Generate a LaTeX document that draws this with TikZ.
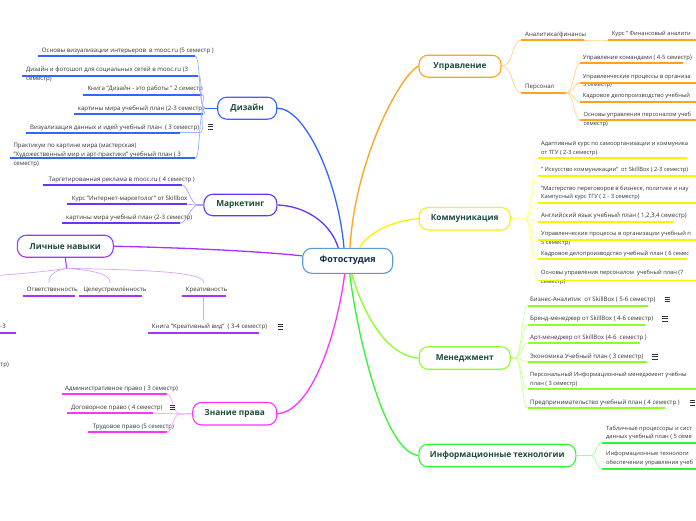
\documentclass[tikz,border=0pt]{standalone}
\usepackage{fontspec}
\setmainfont{Open Sans}
\definecolor{cen}{HTML}{5B9BD5}
\definecolor{blu}{HTML}{3366FF}\definecolor{bluL}{HTML}{99B3FF}
\definecolor{pur}{HTML}{6633FF}\definecolor{purL}{HTML}{B39CFF}
\definecolor{vio}{HTML}{A633FF}\definecolor{vioL}{HTML}{D9A3FF}
\definecolor{mag}{HTML}{FF33FF}\definecolor{magL}{HTML}{FFA3FF}
\definecolor{ora}{HTML}{FFA31A}\definecolor{oraL}{HTML}{FFD28C}
\definecolor{yel}{HTML}{F5F500}\definecolor{yelL}{HTML}{FFFF99}
\definecolor{lgr}{HTML}{8CFF26}\definecolor{lgrL}{HTML}{CCFF99}
\definecolor{grn}{HTML}{33F533}\definecolor{grnL}{HTML}{99FF99}
\definecolor{htxt}{HTML}{1D4A3C}
\definecolor{ctxt}{HTML}{172B4D}
\definecolor{itxt}{HTML}{333333}
\tikzset{
  topic/.style={draw=#1, line width=1.1pt, fill=white, rounded corners=9pt,
    font=\fontsize{8.3}{10}\selectfont\bfseries, text=htxt, inner sep=0pt},
  itm/.style={font=\fontsize{6.1}{8.8}\selectfont, text=itxt, inner sep=0pt,
    anchor=north west, align=left},
  sm/.style={font=\fontsize{5.75}{8.8}\selectfont},
  smm/.style={font=\fontsize{5.9}{8.8}\selectfont},
  ul/.style={draw=#1, line width=1.7pt},
  cn/.style={draw=#1, line width=0.7pt},
  br/.style={draw=#1, line width=1.3pt},
  icon/.style={draw=itxt, line width=0.6pt},
}
% [opts] name, x, y, ul x1, ul x2, ul y, colour, text
\newcommand\mitem[9][]{%
  \node[itm,#1] (#2) at (#3,{#4-2.9}) {#9};
  \coordinate (#2a) at (#5,#7);
  \coordinate (#2b) at (#6,#7);
  \draw[ul=#8] (#2a) -- (#2b);}
\newcommand\noteicon[2]{%
  \draw[icon] ({#1-2.6},{#2-2.2}) -- ++(5.2,0) ({#1-2.6},#2) -- ++(5.2,0) ({#1-2.6},{#2+2.2}) -- ++(5.2,0);}
\begin{document}
\begin{tikzpicture}[x=1pt,y=-1pt]
\useasboundingbox (0,0) rectangle (696,520);
\fill[white] (0,0) rectangle (696,520);

% main topics
\node[topic=cen, text=ctxt, minimum width=90pt, minimum height=25pt,
  font=\fontsize{9}{11}\selectfont\bfseries] (c) at (347.7,260.8) {Фотостудия};
\node[topic=blu, minimum width=59pt, minimum height=22pt] (diz) at (247.2,108.2) {Дизайн};
\node[topic=pur, minimum width=73pt, minimum height=21.5pt] (mar) at (240.4,205) {Маркетинг};
\node[topic=vio, minimum width=96pt, minimum height=22pt] (lic) at (65.3,246.2) {Личные навыки};
\node[topic=mag, minimum width=84pt, minimum height=22.5pt] (zna) at (234.7,413.7) {Знание права};
\node[topic=ora, minimum width=82pt, minimum height=22pt] (upr) at (460,66.2) {Управление};
\node[topic=yel, minimum width=91pt, minimum height=22.5pt] (kom) at (464.7,218.7) {Коммуникация};
\node[topic=lgr, minimum width=91pt, minimum height=22.5pt] (men) at (464.7,358) {Менеджмент};
\node[topic=grn, minimum width=157pt, minimum height=22.5pt] (inf) at (497.3,455.5) {Информационные технологии};

% main branches
\draw[br=blu] (diz.east) .. controls (305,108) and (338,180) .. ([xshift=-3.7pt]c.north);
\draw[br=pur] (mar.east) .. controls (305,206) and (330,222) .. ([xshift=-9.4pt]c.north);
\draw[br=vio] (lic.east) .. controls (190,248) and (255,251) .. ([yshift=5pt]c.west);
\draw[br=mag] (zna.east) .. controls (310,412) and (336,340) .. ([xshift=-3pt]c.south);
\draw[br=ora] (upr.west) .. controls (400,75) and (355,160) .. ([xshift=2.3pt]c.north);
\draw[br=yel] (kom.west) .. controls (395,220) and (368,232) .. ([xshift=12pt]c.north);
\draw[br=lgr] ([xshift=4pt]c.south) .. controls (362,310) and (385,356) .. (men.west);
\draw[br=grn] ([xshift=2pt]c.south) .. controls (358,340) and (385,452) .. (inf.west);

% ---------- Дизайн
\coordinate (dz) at (205,108.2);
\draw[line width=1.3pt, draw=blu] (diz.west) -- (dz);
\mitem{d1}{41.7}{50.7}{38}{195}{56}{blu}{Основы визуализации интерьеров\ \ в mooc.ru (5 семестр )}
\mitem{d2}{26}{69.3}{21.7}{198}{75.7}{blu}{Дизайн и фотошоп для социальных сетей в mooc.ru (3\\семестр)}
\mitem{d3}{87.3}{89}{82.7}{201.7}{95}{blu}{Книга "Дизайн - это работы " 2 семестр}
\mitem{d4}{77.7}{108.3}{74}{203}{114}{blu}{картины мира учебный план (2-3 семестр)}
\mitem{d5}{30}{127.3}{26}{180}{132.7}{blu}{Визуализация данных и идей учебный план\ \ ( 3 семестр)}
\mitem{d6}{13.3}{146}{10}{195}{158.3}{blu}{Практикум по картине мира (мастерская)\\"Художественный мир и арт-практики" учебный план ( 3\\семестр)}
\coordinate (d5c) at (200,132.7);
\foreach \t in {d1b,d2b,d3b,d4b,d5c,d6b}
  \draw[cn=bluL] (dz) .. controls +(-7,0) and +(6,0) .. (\t);
\draw[cn=bluL] (d5b) -- (d5c);
\noteicon{210.7}{126.7}

% ---------- Маркетинг
\coordinate (mk) at (198,205);
\draw[line width=1.3pt, draw=purL] (mar.west) -- (mk);
\mitem{m1}{48.3}{180}{43.3}{182}{185.3}{pur}{Таргетированная реклама в mooc.ru ( 4 семестр )}
\mitem{m2}{71.7}{198.7}{66.7}{186.7}{204.3}{pur}{Курс "Интернет-маркетолог" от Skillbox}
\mitem{m3}{66}{217.7}{61.7}{180}{223.3}{pur}{картины мира учебный план (2-3 семестр)}
\foreach \t in {m1b,m2b,m3b}
  \draw[cn=purL] (mk) .. controls +(-7,0) and +(6,0) .. (\t);

% ---------- Личные навыки
\coordinate (lv) at (66.7,268.3);
\draw[line width=1pt, draw=vio] (lic.south) -- (lv);
\mitem{l1}{26.7}{290}{22.7}{75}{295.7}{vio}{Ответственность}
\mitem{l2}{83.3}{290}{79}{141.7}{295.7}{vio}{Целеустремлённость}
\mitem{l3}{185.7}{290}{181.7}{226}{295.7}{vio}{Креативность}
\mitem{l4}{151.7}{326.7}{148.3}{259.3}{332.7}{vio}{Книга "Креативный вид"\ \ ( 3-4 семестр)}
\mitem{l5}{0.3}{326.7}{-2}{16}{332.7}{vio}{-3}
\node[itm] (l6) at (0.3,{365-2.9}) {тр)};
\coordinate (l1t) at (48.8,282.7);
\coordinate (l2t) at (110.3,282.7);
\coordinate (l3t) at (203.8,282.7);
\coordinate (l3u) at (203.8,296.6);
\coordinate (l4t) at (203.8,320);
\coordinate (lx) at (-3,275.5);
\draw[cn=vioL] (lv) .. controls (58,270) and (49,273) .. (l1t);
\draw[cn=vioL] (lv) .. controls (85,270) and (110,272) .. (l2t);
\draw[cn=vioL] (lv) .. controls (150,270) and (203.8,272) .. (l3t);
\draw[cn=vioL] (lv) .. controls (50,271) and (25,273.5) .. (lx);
\draw[cn=vioL] (l3u) -- (l4t);
\noteicon{280.7}{326.7}

% ---------- Знание права
\coordinate (zp) at (180,414);
\draw[line width=1.2pt, draw=magL] (zna.west) -- (zp);
\mitem{z1}{65}{389}{61.7}{166.7}{394.3}{mag}{Административное право ( 3 семестр)}
\mitem{z2}{71}{407.7}{66.7}{153.3}{413.3}{mag}{Договорное право ( 4 семестр)}
\mitem{z3}{92.7}{426.7}{88.3}{166.7}{432.3}{mag}{Трудовое право (5 семестр)}
\foreach \t in {z1b,z2b,z3b}
  \draw[cn=magL] (zp) .. controls +(-7,0) and +(6,0) .. (\t);
\noteicon{172.7}{407.3}

% ---------- Управление
\mitem{u1}{525}{34.3}{521}{584}{40}{ora}{Аналитика/финансы}
\mitem[sm]{u2}{611.7}{34.3}{608}{700}{40}{ora}{Курс " Финансовый аналити}
\mitem{u3}{525}{86.7}{521}{566}{92.7}{ora}{Персонал}
\mitem[smm]{u4}{582.7}{57.7}{580}{683}{63.3}{ora}{Управление командами ( 4-5 семестр)}
\mitem[sm]{u5}{582.7}{76.7}{580}{700}{82.7}{ora}{Управленческие процессы в организа\\5 семестр)}
\mitem[sm]{u6}{582.7}{96}{580}{700}{101.7}{ora}{Кадровое делопроизводство учебный}
\mitem[sm]{u7}{583.5}{114.7}{580}{700}{120}{ora}{Основы управления персоналом учеб\\семестр)}
\draw[cn=oraL] (upr.east) .. controls +(12,0) and +(-9,0) .. (u1a);
\draw[cn=oraL] (upr.east) .. controls +(12,0) and +(-9,0) .. (u3a);
\draw[cn=oraL] (u1b) .. controls +(10,0) and +(-10,0) .. (u2a);
\foreach \t in {u4a,u5a,u6a,u7a}
  \draw[cn=oraL] (u3b) .. controls +(8,0) and +(-6,0) .. (\t);

% ---------- Коммуникация
\coordinate (kr) at (525,218.7);
\draw[line width=1.2pt, draw=yelL] (kom.east) -- (kr);
\mitem[sm]{k1}{541}{144}{538}{687}{157.7}{yel}{Адаптивный курс по самоорганизации и коммуника\\от ТГУ ( 2-3 семестр)}
\mitem[sm]{k2}{541}{170.3}{538}{700}{176}{yel}{" Искусство коммуникации"\ \ от SkillBox ( 2-3 семестр)}
\mitem[sm]{k3}{541}{188.3}{538}{700}{202.7}{yel}{"Мастерство переговоров в бизнесе, политике и нау\\Кампусный курс ТГУ ( 2 - 3 семестр)}
\mitem{k4}{541}{215.7}{538}{672.7}{221.7}{yel}{Английский язык учебный план ( 1,2,3,4 семестр)}
\mitem[sm]{k5}{541}{234}{538}{700}{240}{yel}{Управленческие процессы в организации учебный п\\5 семестр)}
\mitem[sm]{k6}{541}{253.3}{538}{687}{259.3}{yel}{Кадровое делопроизводство учебный план ( 6 семес}
\mitem[sm]{k7}{541}{272.7}{538}{700}{280.5}{yel}{Основы управления персоналом\ \ учебный план (7\\семестр)}
\foreach \t in {k1a,k2a,k3a,k4a,k5a,k6a,k7a}
  \draw[cn=yelL] (kr) .. controls +(7,0) and +(-6,0) .. (\t);

% ---------- Менеджмент
\coordinate (mr) at (515,358);
\draw[line width=1.2pt, draw=lgrL] (men.east) -- (mr);
\mitem{n1}{530}{299.3}{527.7}{648.3}{305.7}{lgr}{Бизнес-Аналитик\ \ от SkillBox ( 5-6 семестр)}
\mitem{n2}{530}{318.7}{527.7}{645}{325}{lgr}{Бренд-менеджер от SkillBox ( 4-6 семестр)}
\mitem{n3}{530}{337.7}{527.7}{640}{343}{lgr}{Арт-менеджер от SkillBox (4-6\ \ семестр )}
\mitem{n4}{530}{356.7}{527.7}{646.7}{362}{lgr}{Экономика Учебный план ( 3 семестр)}
\mitem[sm]{n5}{530}{375}{527.7}{700}{389}{lgr}{Персональный Информационный менеджмент учебны\\план ( 3 семестр)}
\mitem{n6}{530}{402.7}{527.7}{665}{408}{lgr}{Предпринимательство учебный план ( 4 семестр )}
\foreach \t in {n1a,n2a,n3a,n4a,n5a,n6a}
  \draw[cn=lgrL] (mr) .. controls +(7,0) and +(-6,0) .. (\t);
\noteicon{667.7}{299.3}
\noteicon{665}{318.7}
\noteicon{655}{356.7}
\noteicon{692.8}{402.7}

% ---------- Информационные технологии
\coordinate (ir) at (590,455.5);
\draw[line width=1.2pt, draw=grnL] (inf.east) -- (ir);
\mitem[sm]{t1}{606}{428.3}{602}{700}{442.7}{grn}{Табличные процессоры и сист\\данных учебный план ( 5 семе}
\mitem[sm]{t2}{606}{454.3}{602}{700}{469}{grn}{Информационные технологи\\обеспечении управления учеб}
\foreach \t in {t1a,t2a}
  \draw[cn=grnL] (ir) .. controls +(7,0) and +(-6,0) .. (\t);
\end{tikzpicture}
\end{document}
